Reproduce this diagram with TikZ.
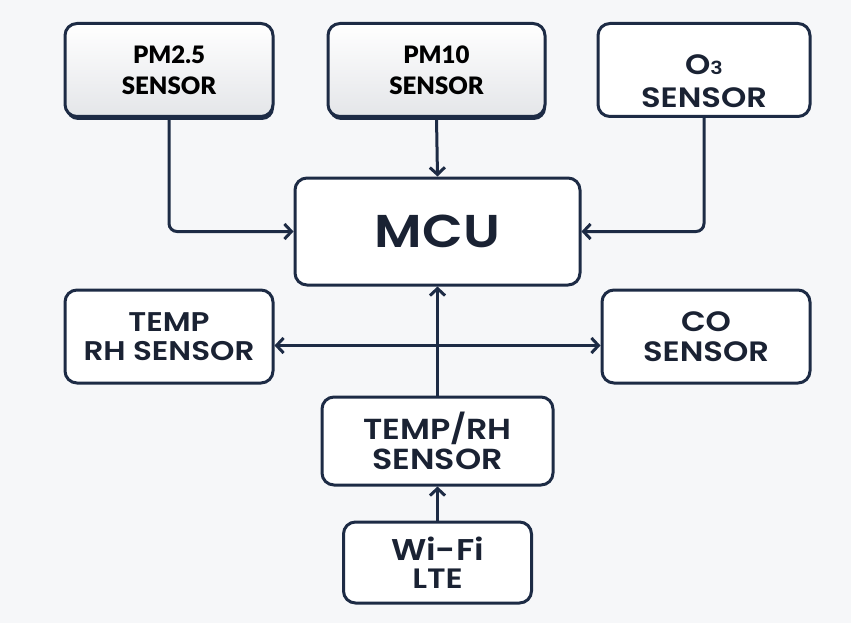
\documentclass[tikz,border=0pt]{standalone}
\usepackage{fontspec}
\setmainfont{Poppins}[FakeStretch=1.15, BoldFont={Poppins SemiBold}]
\newfontfamily\pmfont{Lato}[BoldFont={Lato Black}]
\usetikzlibrary{arrows.meta,shadows}
\definecolor{navy}{HTML}{1D2B45}
\definecolor{bg}{HTML}{F6F7F9}
\definecolor{txt}{HTML}{1A2233}
\tikzset{
  box/.style={draw=navy, line width=3pt, rounded corners=12pt, fill=white,
    align=center, text=txt, inner sep=0pt,
    font=\bfseries\fontsize{28}{30}\selectfont},
  pmbox/.style={box, top color=white, bottom color=navy!12!white,
    drop shadow={shadow xshift=1pt, shadow yshift=-3.5pt, fill=navy, opacity=1},
    font=\pmfont\bfseries\fontsize{24}{31}\selectfont, text=black},
  lbl/.style={align=center, text=txt, inner sep=0pt,
    font=\bfseries\fontsize{28}{33}\selectfont},
  conn/.style={draw=navy, line width=3pt, -{Straight Barb[length=7pt,width=15pt]},
    rounded corners=8pt},
}
\begin{document}
\begin{tikzpicture}[x=1pt,y=-1pt]
  \fill[bg] (0,0) rectangle (851,623);
  \useasboundingbox (0,0) rectangle (851,623);

  % top row
  \node[pmbox, minimum width=208pt, minimum height=93pt] (pm25) at (169,70) {PM2.5\\SENSOR};
  \node[pmbox, minimum width=217pt, minimum height=93pt] (pm10) at (436.5,70) {PM10\\SENSOR};
  \node[box, minimum width=212pt, minimum height=93pt] (o3) at (704,70) {};
  \node[lbl] (o3t) at (704,81) {O{\fontsize{18}{18}\selectfont 3}\\SENSOR};

  % MCU
  \node[box, minimum width=285pt, minimum height=107pt,
        font=\bfseries\fontsize{46}{48}\selectfont] (mcu) at (437.5,231.5) {MCU};

  % middle row
  \node[box, minimum width=208pt, minimum height=93pt,
        font=\bfseries\fontsize{27}{29}\selectfont] (lrh) at (169,336.5) {TEMP\\RH SENSOR};
  \node[box, minimum width=208pt, minimum height=93pt] (co) at (706,336.5) {CO\\SENSOR};

  % bottom
  \node[box, minimum width=231pt, minimum height=88pt,
        font=\bfseries\fontsize{29}{30}\selectfont] (trh) at (437.5,441) {TEMP/RH\\SENSOR};
  \node[box, minimum width=188pt, minimum height=81pt,
        font=\bfseries\fontsize{28}{28}\selectfont] (wifi) at (437.5,562.5)
        {{\fontsize{30}{30}\selectfont Wi-Fi}\\LTE};

  % connectors
  \draw[conn] (pm25.south) |- (mcu.west);
  \draw[conn] (pm10.south) -- (mcu.north);
  \draw[conn] (o3.south) |- (mcu.east);
  \draw[conn] (trh.north) -- (mcu.south);
  \draw[conn] (wifi.north) -- (trh.south);
  \draw[conn, {Straight Barb[length=7pt,width=15pt]}-{Straight Barb[length=7pt,width=15pt]}]
    ([yshift=-9pt]lrh.east) -- ([yshift=-9pt]co.west);
\end{tikzpicture}
\end{document}
